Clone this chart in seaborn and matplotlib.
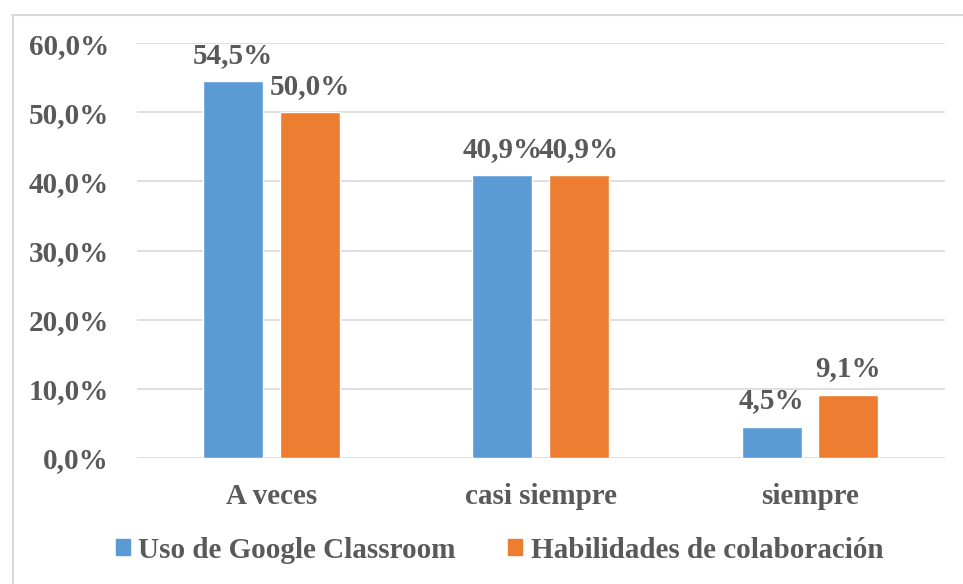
import pandas as pd
import matplotlib
matplotlib.use("Agg")
import matplotlib.pyplot as plt
from matplotlib.lines import Line2D
from matplotlib.ticker import FuncFormatter
import seaborn as sns

# Datos
categorias = ["A veces", "casi siempre", "siempre"]
series = ["Uso de Google Classroom", "Habilidades de colaboración"]
uso_classroom = [54.5, 40.9, 4.5]
habilidades = [50.0, 40.9, 9.1]
colores = ["#5B9BD5", "#ED7D31"]
y_ticks = [0, 10, 20, 30, 40, 50, 60]

df = pd.DataFrame({
    "categoria": categorias * 2,
    "serie": [series[0]] * 3 + [series[1]] * 3,
    "valor": uso_classroom + habilidades,
})

sns.set_style("white")
plt.rcParams["font.family"] = ["Liberation Serif", "DejaVu Serif"]
texto = "#595959"
fs = 21

fig = plt.figure(figsize=(9.63, 5.84), dpi=100)
ax = fig.add_axes([0.142, 0.216, 0.839, 0.710])

sns.barplot(data=df, x="categoria", y="valor", hue="serie", order=categorias,
            hue_order=series, palette=colores, width=0.569, gap=0.216,
            saturation=1, ax=ax, legend=True)

for cont in ax.containers:
    ax.bar_label(cont, labels=[f"{v:.1f}%".replace(".", ",") for v in cont.datavalues],
                 padding=9, fontsize=fs, fontweight="bold", color=texto)

ax.set_ylim(0, 60)
ax.set_xlim(-0.5, 2.5)
ax.set_yticks(y_ticks)
ax.yaxis.set_major_formatter(FuncFormatter(lambda v, p: f"{v:.1f}%".replace(".", ",")))
ax.grid(axis="y", color="#D9D9D9", linewidth=1.2)
ax.set_axisbelow(True)
for s in ax.spines.values():
    s.set_visible(False)
ax.tick_params(axis="both", length=0, labelsize=fs, labelcolor=texto)
ax.tick_params(axis="x", pad=18)
ax.tick_params(axis="y", pad=20)
for lab in ax.get_xticklabels() + ax.get_yticklabels():
    lab.set_fontweight("bold")
ax.set_xlabel("")
ax.set_ylabel("")

ax.get_legend().remove()
handles = [plt.Rectangle((0, 0), 1, 1, color=c) for c in colores]
fig.legend(handles, series, loc="center", bbox_to_anchor=(0.519, 0.058), ncol=2,
           frameon=False, handlelength=0.48, handleheight=0.48, handletextpad=0.3,
           columnspacing=1.8, prop={"size": fs, "weight": "bold"}, labelcolor=texto)

# Borde del área del gráfico (estilo Excel)
fig.add_artist(Line2D([12 / 963, 1], [1 - 15 / 584] * 2, color="#D9D9D9", lw=1.5,
                      transform=fig.transFigure))
fig.add_artist(Line2D([13 / 963] * 2, [0, 1 - 15 / 584], color="#D9D9D9", lw=1.5,
                      transform=fig.transFigure))

fig.savefig("out.png", dpi=100)
